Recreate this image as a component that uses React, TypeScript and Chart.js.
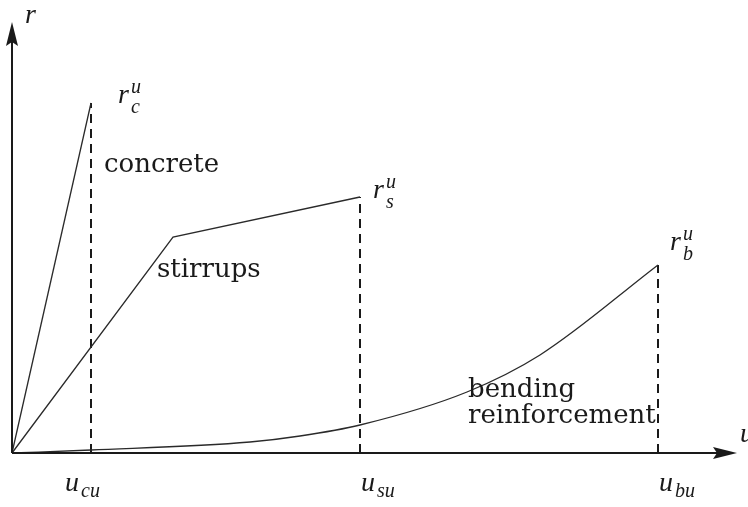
import React, { useEffect, useRef } from "react";
import { Chart, registerables } from "chart.js";

Chart.register(...registerables);

// Resistance–displacement laws of the three mechanisms (u: displacement, r: resistance)
const concreteU = [0, 79];
const concreteR = [0, 350];

const stirrupsU = [0, 161, 348];
const stirrupsR = [0, 216, 256];

const bendingU = [0, 79, 238, 288, 348, 455, 528, 646];
const bendingR = [0, 3, 11, 17, 28, 61, 98, 188];

// Ultimate points: u_cu, u_su, u_bu and r_c^u, r_s^u, r_b^u
const ultimateU = [79, 348, 646];
const ultimateR = [350, 256, 188];
const ultimateSub = ["cu", "su", "bu"];
const resistanceSub = ["c", "s", "b"];

const curveNames = ["concrete", "stirrups", "bending", "reinforcement"];

const uMax = 725;
const rMax = 431;

const toPoints = (xs: number[], ys: number[]) => xs.map((x, i) => ({ x, y: ys[i] }));

const WORD_FONT = '26px "DejaVu Serif"';
const MATH_FONT = 'italic 28px "Liberation Serif"';
const MATH_SMALL = 'italic 20px "Liberation Serif"';
const INK = "#1a1a1a";

function drawMath(
  ctx: CanvasRenderingContext2D,
  x: number,
  y: number,
  base: string,
  sub?: string,
  sup?: string,
  subDy = 8,
  supDy = -11
) {
  ctx.font = MATH_FONT;
  ctx.fillText(base, x, y);
  const w = ctx.measureText(base).width + 2;
  ctx.font = MATH_SMALL;
  if (sup) ctx.fillText(sup, x + w, y + supDy);
  if (sub) ctx.fillText(sub, x + w, y + subDy);
}

const diagramPlugin = {
  id: "diagramAnnotations",
  afterDatasetsDraw(chart: any) {
    const ctx: CanvasRenderingContext2D = chart.ctx;
    const xs = chart.scales.x;
    const ys = chart.scales.y;
    const px = (v: number) => xs.getPixelForValue(v);
    const py = (v: number) => ys.getPixelForValue(v);
    const ox = px(0);
    const oy = py(0);

    ctx.save();
    // axes with arrow heads
    ctx.strokeStyle = INK;
    ctx.fillStyle = INK;
    ctx.lineWidth = 2;
    ctx.beginPath();
    ctx.moveTo(ox, oy);
    ctx.lineTo(px(uMax) - 10, oy);
    ctx.moveTo(ox, oy);
    ctx.lineTo(ox, py(rMax) + 10);
    ctx.stroke();

    ctx.beginPath();
    ctx.moveTo(px(uMax), oy);
    ctx.lineTo(px(uMax) - 24, oy - 6);
    ctx.lineTo(px(uMax) - 20, oy);
    ctx.lineTo(px(uMax) - 24, oy + 6);
    ctx.closePath();
    ctx.fill();

    ctx.beginPath();
    ctx.moveTo(ox, py(rMax));
    ctx.lineTo(ox - 6, py(rMax) + 24);
    ctx.lineTo(ox, py(rMax) + 20);
    ctx.lineTo(ox + 6, py(rMax) + 24);
    ctx.closePath();
    ctx.fill();

    ctx.textBaseline = "alphabetic";
    ctx.textAlign = "left";

    // axis titles
    drawMath(ctx, ox + 13, py(rMax) + 1, "r");
    drawMath(ctx, px(uMax) + 3, oy - 11, "u");

    // ultimate displacements under the axis
    ultimateU.forEach((u, i) => {
      const x = i === 0 ? px(u) - 26 : px(u) + 1;
      drawMath(ctx, x, oy + 38, "u", ultimateSub[i], undefined, 6);
    });

    // ultimate resistances next to the peaks
    const peakOffsets = [
      [27, 0],
      [13, 1],
      [12, -15],
    ];
    ultimateU.forEach((u, i) => {
      const [dx, dy] = peakOffsets[i];
      drawMath(ctx, px(u) + dx, py(ultimateR[i]) + dy, "r", resistanceSub[i], "u", 10, -10);
    });

    // curve names
    ctx.font = WORD_FONT;
    ctx.fillText(curveNames[0], px(concreteU[1]) + 13, py(concreteR[1]) + 69);
    ctx.fillText(curveNames[1], px(stirrupsU[1]) - 16, py(stirrupsR[1]) + 40);
    ctx.fillText(curveNames[2], px(bendingU[5]) + 1, py(bendingR[5]) + 5);
    ctx.fillText(curveNames[3], px(bendingU[5]) + 1, py(bendingR[5]) + 31);
    ctx.restore();
  },
};

export default function App() {
  const canvasRef = useRef<HTMLCanvasElement | null>(null);

  useEffect(() => {
    if (!canvasRef.current) return;
    const curve = (data: { x: number; y: number }[]) => ({
      data,
      borderColor: "#2a2a2a",
      borderWidth: 1.3,
      pointRadius: 0,
      fill: false,
      clip: false as const,
    });
    const dashed = (i: number) => ({
      data: [
        { x: ultimateU[i], y: 0 },
        { x: ultimateU[i], y: ultimateR[i] },
      ],
      borderColor: INK,
      borderWidth: 2,
      borderDash: [9, 6],
      pointRadius: 0,
      fill: false,
      clip: false as const,
    });

    const chart = new Chart(canvasRef.current, {
      type: "line",
      data: {
        datasets: [
          curve(toPoints(concreteU, concreteR)),
          curve(toPoints(stirrupsU, stirrupsR)),
          { ...curve(toPoints(bendingU, bendingR)), cubicInterpolationMode: "monotone" as const },
          dashed(0),
          dashed(1),
          dashed(2),
        ],
      },
      options: {
        animation: false,
        responsive: false,
        devicePixelRatio: 1,
        layout: { padding: { left: 12, right: 11, top: 22, bottom: 54 } },
        plugins: { legend: { display: false }, tooltip: { enabled: false } },
        events: [],
        scales: {
          x: { type: "linear", min: 0, max: uMax, display: false },
          y: { type: "linear", min: 0, max: rMax, display: false },
        },
      },
      plugins: [diagramPlugin],
    });
    return () => chart.destroy();
  }, []);

  return (
    <div style={{ position: "fixed", left: 0, top: 0, width: 748, height: 507, background: "#fff" }}>
      <canvas ref={canvasRef} width={748} height={507} style={{ display: "block" }} />
    </div>
  );
}
